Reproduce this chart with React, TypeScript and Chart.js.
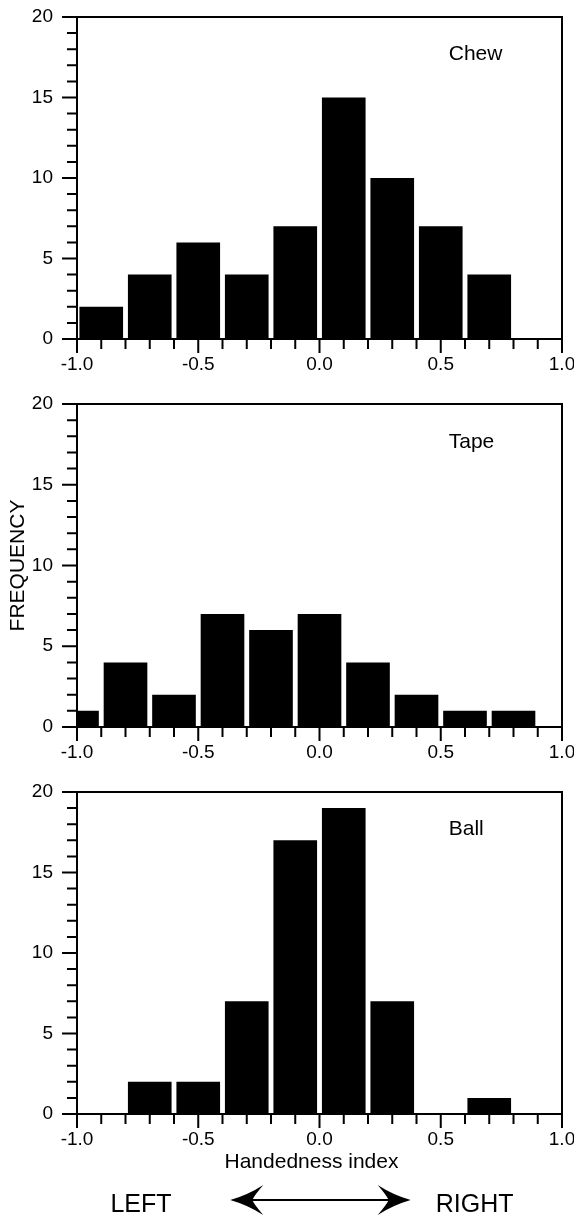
import React, { useEffect, useRef } from 'react';
import { Chart, registerables } from 'chart.js';

Chart.register(...registerables);

// ---- Data ----
const chewCenters = [-0.9, -0.7, -0.5, -0.3, -0.1, 0.1, 0.3, 0.5, 0.7, 0.9];
const chewValues = [2, 4, 6, 4, 7, 15, 10, 7, 4, 0];
const tapeCenters = [-1.0, -0.8, -0.6, -0.4, -0.2, 0.0, 0.2, 0.4, 0.6, 0.8];
const tapeValues = [1, 4, 2, 7, 6, 7, 4, 2, 1, 1];
const ballCenters = [-0.9, -0.7, -0.5, -0.3, -0.1, 0.1, 0.3, 0.5, 0.7, 0.9];
const ballValues = [0, 2, 2, 7, 17, 19, 7, 0, 1, 0];
const panelNames = ['Chew', 'Tape', 'Ball'];
const xTickValues = [-1.0, -0.5, 0.0, 0.5, 1.0];
const yTickValues = [0, 5, 10, 15, 20];
const yAxisTitle = 'FREQUENCY';
const xAxisTitle = 'Handedness index';
const directionLabels = ['LEFT', 'RIGHT'];

const FONT = '"Liberation Sans", Arial, Helvetica, sans-serif';
Chart.defaults.font.family = FONT;
Chart.defaults.color = '#000';

function arrowHead(ctx: CanvasRenderingContext2D, tipX: number, y: number, dir: number) {
  const L = 33, H = 15, notch = 22;
  ctx.beginPath();
  ctx.moveTo(tipX, y);
  ctx.quadraticCurveTo(tipX - dir * (L * 0.55), y - H * 0.35, tipX - dir * L, y - H);
  ctx.quadraticCurveTo(tipX - dir * (notch + 2), y - H * 0.3, tipX - dir * notch, y);
  ctx.quadraticCurveTo(tipX - dir * (notch + 2), y + H * 0.3, tipX - dir * L, y + H);
  ctx.quadraticCurveTo(tipX - dir * (L * 0.55), y + H * 0.35, tipX, y);
  ctx.closePath();
  ctx.fill();
}

function framePlugin(name: string, showBottom: boolean) {
  return {
    id: 'frameAndLabels',
    afterDatasetsDraw(chart: any) {
      const { ctx, chartArea: a, scales } = chart;
      const x = scales.x, y = scales.y;
      ctx.save();
      ctx.strokeStyle = '#000';
      ctx.lineWidth = 2;
      ctx.lineCap = 'butt';
      ctx.strokeRect(a.left, a.top, a.right - a.left, a.bottom - a.top);
      ctx.beginPath();
      const yMin = y.min, yMax = y.max;
      for (let v = yMin; v <= yMax; v++) {
        const py = y.getPixelForValue(v);
        const len = v % 5 === 0 ? 15 : 10;
        ctx.moveTo(a.left - len, py);
        ctx.lineTo(a.left, py);
      }
      const steps = Math.round((x.max - x.min) / 0.1);
      for (let i = 0; i <= steps; i++) {
        const v = x.min + i * 0.1;
        const px = x.getPixelForValue(v);
        const len = i % 5 === 0 ? 14 : 10;
        ctx.moveTo(px, a.bottom);
        ctx.lineTo(px, a.bottom + len);
      }
      ctx.stroke();

      ctx.fillStyle = '#000';
      ctx.textAlign = 'left';
      ctx.textBaseline = 'alphabetic';
      ctx.font = `21px ${FONT}`;
      ctx.fillText(name, x.getPixelForValue(0.533), y.getPixelForValue(17.3));

      if (showBottom) {
        ctx.textAlign = 'center';
        ctx.font = `21px ${FONT}`;
        ctx.fillText(xAxisTitle, x.getPixelForValue(-0.033), a.bottom + 54);
        ctx.font = `25px ${FONT}`;
        ctx.fillText(directionLabels[0], x.getPixelForValue(-0.736), a.bottom + 98);
        ctx.fillText(directionLabels[1], x.getPixelForValue(0.64), a.bottom + 98);
        const ay = a.bottom + 86;
        const x0 = x.getPixelForValue(-0.368);
        const x1 = x.getPixelForValue(0.376);
        ctx.beginPath();
        ctx.moveTo(x0 + 20, ay);
        ctx.lineTo(x1 - 20, ay);
        ctx.stroke();
        arrowHead(ctx, x0, ay, -1);
        arrowHead(ctx, x1, ay, 1);
      }
      ctx.restore();
    },
  };
}

function makeConfig(
  centers: number[],
  values: number[],
  name: string,
  plotTop: number,
  plotBottom: number,
  height: number,
  showYTitle: boolean,
  showBottom: boolean
): any {
  return {
    type: 'bar',
    data: {
      datasets: [
        {
          data: centers.map((c, i) => ({ x: c, y: values[i] })),
          backgroundColor: '#000',
          borderWidth: 0,
          barPercentage: 0.9,
          categoryPercentage: 1,
          clip: 0,
        },
      ],
    },
    options: {
      animation: false,
      responsive: false,
      maintainAspectRatio: false,
      layout: { padding: { top: plotTop, right: 12, bottom: 0, left: 0 } },
      plugins: {
        legend: { display: false },
        tooltip: { enabled: false },
        title: { display: false },
      },
      scales: {
        x: {
          type: 'linear',
          min: -1,
          max: 1,
          offset: false,
          grid: { display: false, drawTicks: false, offset: false },
          border: { display: false },
          ticks: {
            autoSkip: false,
            maxRotation: 0,
            padding: 14,
            color: '#000',
            font: { family: FONT, size: 19 },
            callback: (v: any) => Number(v).toFixed(1),
          },
          afterBuildTicks: (s: any) => {
            s.ticks = xTickValues.map((v) => ({ value: v }));
          },
          afterFit: (s: any) => {
            s.height = height - plotBottom;
            s.paddingLeft = 0;
            s.paddingRight = 0;
          },
        },
        y: {
          type: 'linear',
          min: 0,
          max: 20,
          grid: { display: false, drawTicks: false },
          border: { display: false },
          ticks: {
            padding: 24,
            color: '#000',
            font: { family: FONT, size: 19 },
          },
          afterBuildTicks: (s: any) => {
            s.ticks = yTickValues.map((v) => ({ value: v }));
          },
          afterFit: (s: any) => {
            s.width = 77;
            s.paddingTop = 0;
            s.paddingBottom = 0;
          },
          title: {
            display: showYTitle,
            text: yAxisTitle,
            color: '#000',
            font: { family: FONT, size: 21 },
            padding: { top: 6, bottom: 0 },
          },
        },
      },
    },
    plugins: [framePlugin(name, showBottom)],
  };
}

export default function App() {
  const r1 = useRef<HTMLCanvasElement>(null);
  const r2 = useRef<HTMLCanvasElement>(null);
  const r3 = useRef<HTMLCanvasElement>(null);

  useEffect(() => {
    const charts = [
      new Chart(r1.current as HTMLCanvasElement, makeConfig(chewCenters, chewValues, panelNames[0], 17, 339, 380, false, false)),
      new Chart(r2.current as HTMLCanvasElement, makeConfig(tapeCenters, tapeValues, panelNames[1], 24, 347, 380, true, false)),
      new Chart(r3.current as HTMLCanvasElement, makeConfig(ballCenters, ballValues, panelNames[2], 32, 354, 456, false, true)),
    ];
    return () => charts.forEach((c) => c.destroy());
  }, []);

  return (
    <div style={{ position: 'absolute', left: 0, top: 0, width: 574, height: 1216, background: '#fff' }}>
      <canvas ref={r1} width={574} height={380} style={{ position: 'absolute', left: 0, top: 0 }} />
      <canvas ref={r2} width={574} height={380} style={{ position: 'absolute', left: 0, top: 380 }} />
      <canvas ref={r3} width={574} height={456} style={{ position: 'absolute', left: 0, top: 760 }} />
    </div>
  );
}
